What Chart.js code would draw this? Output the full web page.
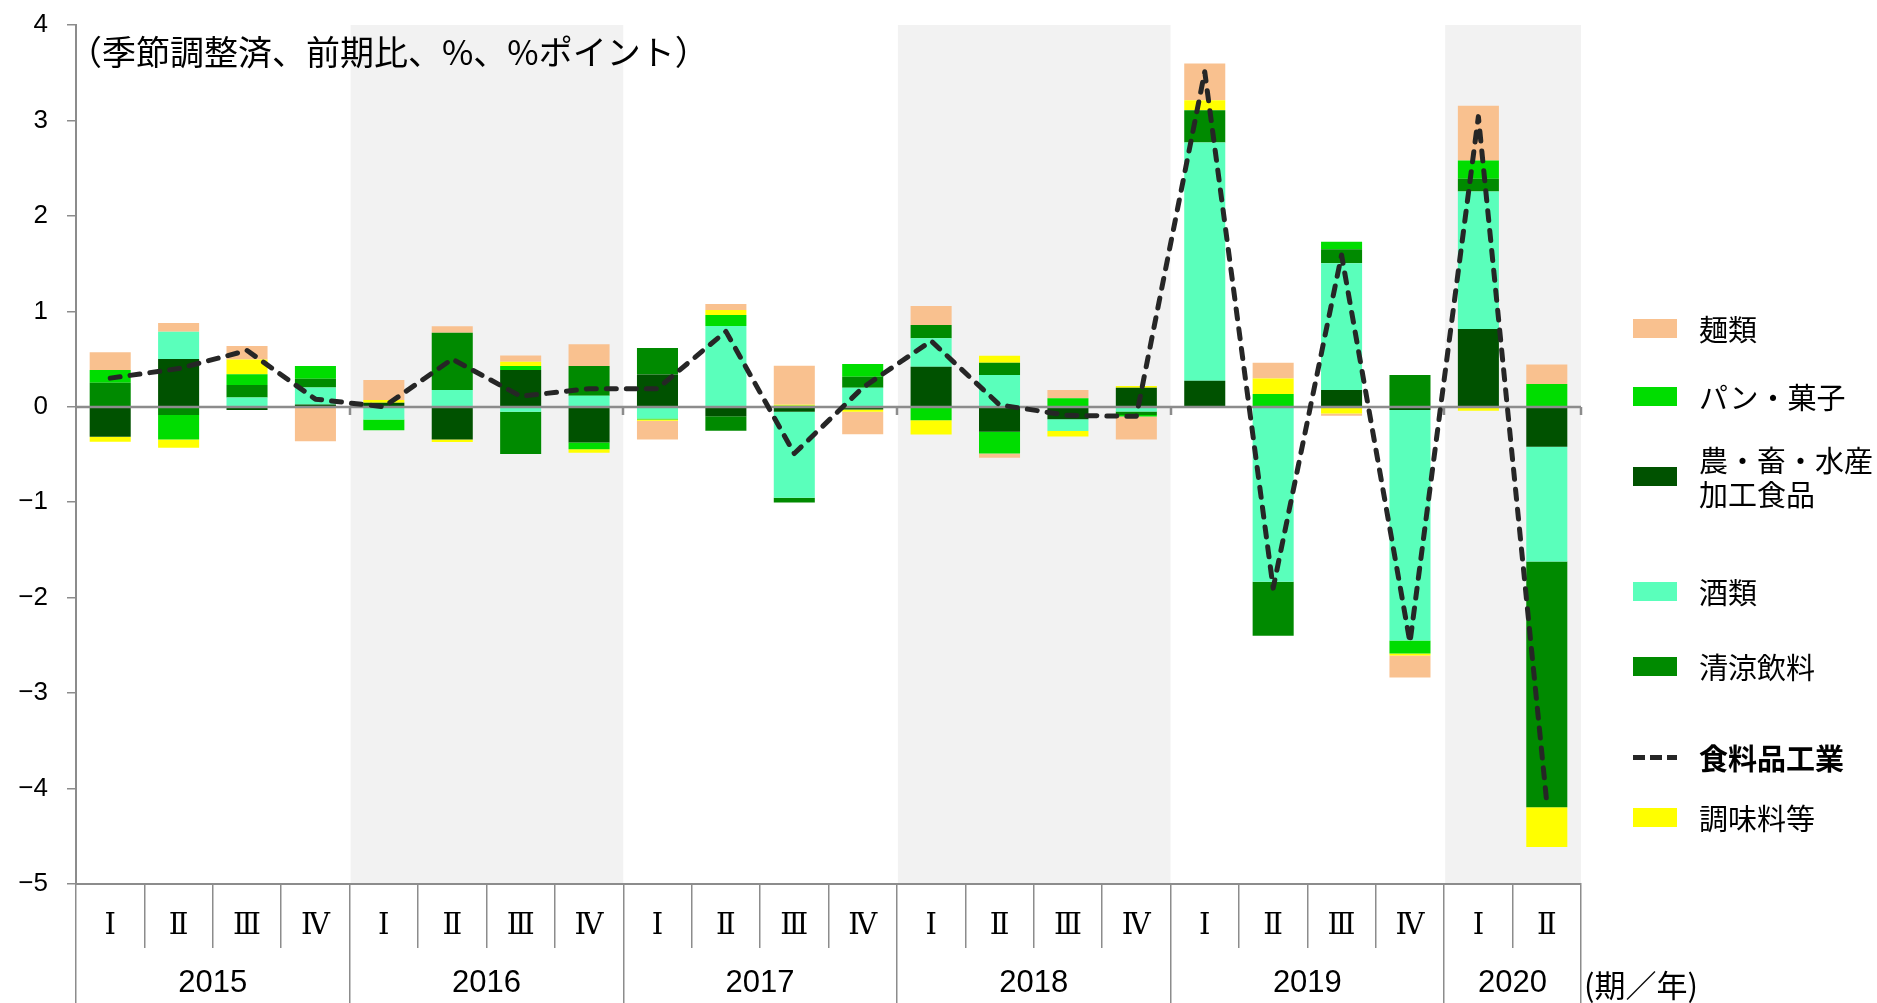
<!DOCTYPE html>
<html lang="ja">
<head>
<meta charset="utf-8">
<title>食料品工業 前期比と業種別寄与度</title>
<script src="https://cdn.jsdelivr.net/npm/chart.js@4.4.1/dist/chart.umd.min.js"></script>
<style>
  html, body { margin: 0; padding: 0; background: #fff; }
  #wrap { position: relative; width: 1877px; height: 1003px; overflow: hidden; }
  #wrap canvas { position: absolute; left: 0; top: 0; }
  .jp { font-family: "Noto Sans CJK JP", sans-serif; color: #000; white-space: nowrap; position: absolute; }
  .note { left: 68px; top: 31px; font-size: 34px; line-height: 40px; }
  .unit { left: 1584px; top: 964px; font-size: 31px; line-height: 40px; }
  .legend { position: absolute; left: 0; top: 0; }
  .swatch { position: absolute; left: 1633px; width: 44px; height: 19px; }
  .dash { position: absolute; left: 1633px; width: 44px; height: 5px;
          background: repeating-linear-gradient(90deg, #262626 0 12px, transparent 12px 17px); }
  .label { position: absolute; left: 1699px; font-family: "Noto Sans CJK JP", sans-serif;
           font-size: 29px; line-height: 34px; color: #000; white-space: nowrap; }
  .label.bold { font-weight: 700; }
</style>
</head>
<body>
<div id="wrap">
  <canvas id="chart" width="1877" height="1003"></canvas>
  <div class="jp note">（季節調整済、前期比、%、%ポイント）</div>
  <div class="jp unit">(期／年)</div>
  <div class="legend" id="legend"></div>
</div>
<script>
// Quarter tick labels and year groups along the bottom axis
const QUARTERS = ['Ⅰ','Ⅱ','Ⅲ','Ⅳ', 'Ⅰ','Ⅱ','Ⅲ','Ⅳ', 'Ⅰ','Ⅱ','Ⅲ','Ⅳ',
                  'Ⅰ','Ⅱ','Ⅲ','Ⅳ', 'Ⅰ','Ⅱ','Ⅲ','Ⅳ', 'Ⅰ','Ⅱ'];
const YEARS = ['2015','2016','2017','2018','2019','2020'];
const QUARTERS_PER_YEAR = [4, 4, 4, 4, 4, 2];
const Y_TICKS = [-5, -4, -3, -2, -1, 0, 1, 2, 3, 4];

// Contributions by sub-industry (% points), 2015 I .. 2020 II
const PROCESSED   = [-0.315, 0.50, -0.035, 0.025, 0.042, -0.343, 0.385, -0.374, 0.339, -0.098, -0.052,
                     -0.028, 0.42, -0.262, -0.13, 0.20, 0.273, 0, 0.175, -0.035, 0.815, -0.42];
const ALCOHOL     = [0, 0.287, 0.098, 0.178, -0.133, 0.175, -0.052, 0.115, -0.122, 0.846, -0.90,
                     0.20, 0.297, 0.332, -0.125, -0.05, 2.497, -1.833, 1.329, -2.415, 1.441, -1.20];
const SOFT_DRINKS = [0.252, -0.087, 0.129, 0.091, 0, 0.60, -0.444, 0.311, 0.276, -0.154, -0.05,
                     0.115, 0.14, 0.129, 0, -0.035, 0.336, -0.567, 0.147, 0.332, 0.133, -2.575];
const BREAD       = [0.133, -0.255, 0.115, 0.133, -0.112, 0, 0.042, -0.07, -0.01, 0.115, 0.01,
                     0.133, -0.14, -0.227, 0.09, -0.017, 0, 0.133, 0.077, -0.136, 0.192, 0.238];
const SEASONING   = [-0.052, -0.087, 0.154, 0, 0.028, -0.025, 0.045, -0.038, -0.014, 0.052, 0.01,
                     -0.025, -0.15, 0.073, -0.056, 0.017, 0.105, 0.164, -0.07, -0.02, -0.042, -0.417];
const NOODLES     = [0.185, 0.091, 0.14, -0.36, 0.21, 0.07, 0.066, 0.23, -0.196, 0.063, 0.41,
                     -0.234, 0.20, -0.045, 0.085, -0.24, 0.385, 0.164, -0.025, -0.23, 0.573, 0.206];
// Food manufacturing total, % change from previous quarter
const FOOD_TOTAL  = [0.30, 0.40, 0.59, 0.08, 0.0, 0.50, 0.11, 0.19, 0.19, 0.79, -0.49,
                     0.20, 0.69, 0.02, -0.09, -0.10, 3.51, -1.90, 1.59, -2.47, 3.04, -4.15];

const NARROW = '"Liberation Sans Narrow", "Liberation Sans", sans-serif';
const AXIS_GRAY = '#8c8c8c';

// Bar series in stacking order (nearest the zero line first)
const barSeries = [
  { name: '農・畜・水産加工食品', lines: ['農・畜・水産', '加工食品'], data: PROCESSED,   color: '#005200' },
  { name: '酒類',               lines: ['酒類'],                data: ALCOHOL,     color: '#5affbb' },
  { name: '清涼飲料',            lines: ['清涼飲料'],            data: SOFT_DRINKS, color: '#008a00' },
  { name: 'パン・菓子',          lines: ['パン・菓子'],          data: BREAD,       color: '#00dd00' },
  { name: '調味料等',            lines: ['調味料等'],            data: SEASONING,   color: '#ffff00' },
  { name: '麺類',               lines: ['麺類'],                data: NOODLES,     color: '#f9c18f' }
];
const lineSeries = { name: '食料品工業', data: FOOD_TOTAL, color: '#262626' };

// Year boundaries / centres in category-index units
const yearBounds = [-0.5];
const yearCenters = [];
QUARTERS_PER_YEAR.reduce((pos, n) => {
  yearCenters.push(pos + n / 2);
  yearBounds.push(pos + n);
  return pos + n;
}, -0.5);
const yearTicks = yearBounds.map(v => ({ value: v, label: '' }))
  .concat(yearCenters.map((v, i) => ({ value: v, label: YEARS[i] })))
  .sort((a, b) => a.value - b.value);
const isBound = v => yearBounds.some(b => Math.abs(b - v) < 1e-6);

// Light grey bands behind alternate years, zero line drawn over the bars
const decorations = {
  id: 'decorations',
  beforeDatasetsDraw(chart) {
    const { ctx, chartArea: a, scales: { x } } = chart;
    ctx.save();
    ctx.fillStyle = '#f2f2f2';
    YEARS.forEach((y, i) => {
      if (i % 2 === 1) {
        const x0 = x.getPixelForValue(yearBounds[i]);
        const x1 = x.getPixelForValue(yearBounds[i + 1]);
        ctx.fillRect(x0 + 1, a.top, x1 - x0 - 1, a.bottom - a.top - 1);
      }
    });
    ctx.restore();
  },
  beforeDatasetDraw(chart, args) {
    if (args.meta.type !== 'line') return;
    const { ctx, chartArea: a, scales: { x, y } } = chart;
    const y0 = Math.round(y.getPixelForValue(0));
    ctx.save();
    ctx.strokeStyle = AXIS_GRAY;
    ctx.lineWidth = 2.5;
    ctx.beginPath();
    ctx.moveTo(a.left, y0);
    ctx.lineTo(a.right, y0);
    yearBounds.slice(1).forEach(b => {
      const px = Math.round(x.getPixelForValue(b));
      ctx.moveTo(px, y0);
      ctx.lineTo(px, y0 + 8);
    });
    ctx.stroke();
    ctx.restore();
  }
};

const datasets = barSeries.map(s => ({
  type: 'bar',
  label: s.name,
  data: s.data,
  backgroundColor: s.color,
  borderWidth: 0,
  stack: 'contrib',
  order: 1,
  barPercentage: 0.6,
  categoryPercentage: 1.0
}));
datasets.push({
  type: 'line',
  label: lineSeries.name,
  data: lineSeries.data,
  borderColor: lineSeries.color,
  borderWidth: 5,
  borderDash: [10, 10],
  borderCapStyle: 'round',
  borderJoinStyle: 'round',
  pointRadius: 0,
  tension: 0,
  fill: false,
  stack: 'total',
  order: 0
});

new Chart(document.getElementById('chart'), {
  data: { labels: QUARTERS, datasets },
  plugins: [decorations],
  options: {
    responsive: false,
    animation: false,
    events: [],
    layout: { padding: { left: 0, right: 296, top: 25, bottom: 0 } },
    plugins: { legend: { display: false }, tooltip: { enabled: false } },
    scales: {
      x: {
        type: 'category',
        position: 'bottom',
        weight: 0,
        stacked: true,
        offset: true,
        grid: { offset: true, drawOnChartArea: false, color: AXIS_GRAY, lineWidth: 1.5, tickLength: 64 },
        border: { display: true, color: AXIS_GRAY, width: 2 },
        ticks: { font: { family: '"DejaVu Serif", serif', size: 29 }, color: '#000',
                 padding: -39, autoSkip: false, maxRotation: 0 },
        afterFit: s => { s.height = 64; s.paddingLeft = 0; s.paddingRight = 0; }
      },
      years: {
        type: 'linear',
        position: 'bottom',
        weight: 1,
        min: yearBounds[0],
        max: yearBounds[yearBounds.length - 1],
        afterBuildTicks: s => { s.ticks = yearTicks.map(t => ({ value: t.value })); },
        grid: { drawOnChartArea: false, tickLength: 55, lineWidth: 1.5,
                color: c => (c.tick && isBound(c.tick.value)) ? AXIS_GRAY : 'rgba(0,0,0,0)' },
        border: { display: false },
        ticks: {
          autoSkip: false, maxRotation: 0, padding: -38, color: '#000',
          font: { family: NARROW, size: 31 },
          callback: v => { const t = yearTicks.find(k => Math.abs(k.value - v) < 1e-6); return t ? t.label : ''; }
        },
        afterFit: s => { s.height = 55; s.paddingLeft = 0; s.paddingRight = 0; }
      },
      y: {
        stacked: true,
        min: Y_TICKS[0],
        max: Y_TICKS[Y_TICKS.length - 1],
        afterBuildTicks: s => { s.ticks = Y_TICKS.map(v => ({ value: v })); },
        grid: { drawOnChartArea: false, color: AXIS_GRAY, tickColor: AXIS_GRAY, lineWidth: 1.5, tickLength: 9 },
        border: { display: true, color: AXIS_GRAY, width: 2 },
        ticks: { font: { family: NARROW, size: 26 }, color: '#000', padding: 19,
                 callback: v => v < 0 ? '\u2212' + Math.abs(v) : String(v) },
        afterFit: s => { s.width = 76; s.paddingTop = 0; s.paddingBottom = 0; }
      }
    }
  }
});

// Legend to the right of the plot
const legendOrder = [
  { key: '麺類', y: 328 },
  { key: 'パン・菓子', y: 396 },
  { key: '農・畜・水産加工食品', y: 476 },
  { key: '酒類', y: 591 },
  { key: '清涼飲料', y: 666 },
  { key: '食料品工業', y: 757 },
  { key: '調味料等', y: 817 }
];
const legend = document.getElementById('legend');
legendOrder.forEach(item => {
  const bar = barSeries.find(s => s.name === item.key);
  if (bar) {
    const sw = document.createElement('div');
    sw.className = 'swatch';
    sw.style.top = (item.y - 9.5) + 'px';
    sw.style.background = bar.color;
    legend.appendChild(sw);
    const lb = document.createElement('div');
    lb.className = 'label';
    lb.style.top = (item.y - 17 * bar.lines.length) + 'px';
    lb.innerHTML = bar.lines.join('<br>');
    legend.appendChild(lb);
  } else {
    const d = document.createElement('div');
    d.className = 'dash';
    d.style.top = (item.y - 2.5) + 'px';
    legend.appendChild(d);
    const lb = document.createElement('div');
    lb.className = 'label bold';
    lb.style.top = (item.y - 17) + 'px';
    lb.textContent = lineSeries.name;
    legend.appendChild(lb);
  }
});
</script>
</body>
</html>
